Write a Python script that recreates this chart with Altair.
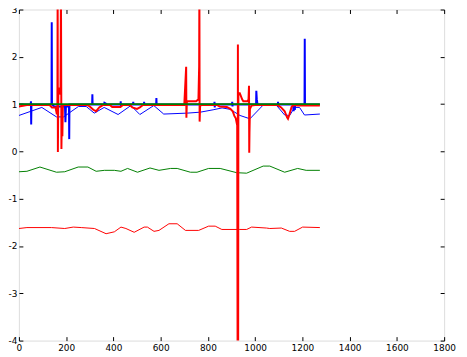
import altair as alt
import pandas as pd

# ---- data ----
BT_X = [0, 50, 51, 52, 53, 138, 139, 140, 150, 195, 197, 199, 212, 213, 214, 310, 311, 312,
        360, 362, 375, 430, 431, 432, 433, 483, 484, 485, 529, 530, 531, 581, 582, 583,
        827, 828, 829, 830, 902, 903, 904, 905, 1004, 1005, 1007, 1010, 1012, 1096, 1097,
        1098, 1099, 1160, 1163, 1165, 1168, 1170, 1209, 1210, 1211, 1274]
BT_Y = [0.99, 0.99, 1.06, 0.57, 0.99, 0.99, 2.73, 0.99, 0.95, 0.95, 0.62, 0.95, 0.95, 0.26, 0.99, 0.99, 1.21, 0.99,
        0.99, 1.03, 0.99, 0.99, 1.06, 0.95, 0.99, 0.99, 1.05, 0.99, 0.99, 1.05, 0.99, 0.99, 1.13, 0.99,
        0.99, 1.05, 0.93, 0.99, 0.99, 1.05, 0.95, 0.99, 0.99, 1.28, 1.10, 1.00, 0.99, 0.99, 1.05,
        0.95, 0.99, 0.99, 0.85, 0.95, 0.88, 0.99, 0.99, 2.38, 0.99, 0.99]

RT_X = [0, 34, 130, 140, 155, 160, 163, 164, 165, 167, 172, 176, 178, 180, 182, 184, 186,
        290, 300, 315, 327, 340, 355, 385, 395, 430, 440, 470, 480, 500, 512, 525,
        700, 708, 709, 711, 750, 760, 763, 764, 765, 767, 770, 840, 850, 880, 895, 905,
        912, 918, 924, 926, 927, 928, 929, 935, 945, 950, 968, 972, 974, 975, 976, 978,
        985, 1000, 1095, 1110, 1125, 1135, 1139, 1145, 1155, 1167, 1180, 1274]
RT_Y = [0.95, 0.98, 0.98, 0.93, 0.93, 0.80, 0.80, 3.5, -0.01, 1.25, 1.35, 1.20, 3.5, 0.05, 0.90, 0.32, 0.98,
        0.98, 0.95, 0.88, 0.85, 0.93, 0.98, 0.98, 0.94, 0.94, 0.98, 0.98, 0.93, 0.90, 0.93, 0.98,
        0.98, 1.79, 0.71, 1.06, 1.06, 1.10, 1.80, 3.5, 0.63, 0.95, 0.98, 0.98, 0.95, 0.94, 0.90, 0.85,
        0.75, 0.70, 0.55, -5.0, 2.26, -5.0, 1.23, 1.23, 1.10, 1.06, 1.06, 1.10, 1.39, -0.03, 0.38, 0.90,
        0.97, 0.98, 0.98, 0.93, 0.85, 0.72, 0.69, 0.78, 0.95, 0.98, 0.97, 0.97]

GF_X = [0, 1274]
GF_Y = [1.0, 1.0]

BW_X = [0, 97, 159, 189, 252, 285, 319, 361, 420, 474, 512, 571, 613, 713, 768, 822, 860,
        894, 936, 978, 1032, 1062, 1091, 1125, 1146, 1167, 1188, 1209, 1274]
BW_Y = [0.76, 0.93, 0.73, 0.73, 0.95, 0.95, 0.81, 0.93, 0.78, 0.97, 0.78, 0.97, 0.79, 0.81, 0.83, 0.88, 0.92,
        0.89, 0.76, 0.69, 0.97, 0.99, 0.97, 0.77, 0.76, 0.93, 0.93, 0.77, 0.79]

GW_X = [0, 34, 89, 159, 194, 251, 292, 327, 362, 404, 432, 460, 502, 555, 593, 642, 670,
        726, 754, 803, 852, 922, 964, 1034, 1062, 1125, 1180, 1216, 1274]
GW_Y = [-0.43, -0.42, -0.33, -0.44, -0.43, -0.33, -0.33, -0.42, -0.40, -0.40, -0.42, -0.36, -0.44, -0.35,
        -0.40, -0.36, -0.36, -0.44, -0.44, -0.36, -0.36, -0.45, -0.46, -0.31, -0.31, -0.44, -0.36, -0.40, -0.40]

RW_X = [0, 34, 138, 194, 230, 264, 320, 369, 404, 432, 453, 488, 530, 544, 572, 593, 635, 670,
        705, 761, 803, 831, 859, 933, 964, 985, 1048, 1062, 1111, 1146, 1167, 1201, 1274]
RW_Y = [-1.63, -1.61, -1.61, -1.63, -1.60, -1.61, -1.63, -1.74, -1.70, -1.60, -1.63, -1.71, -1.60, -1.60,
        -1.69, -1.67, -1.53, -1.53, -1.67, -1.67, -1.58, -1.58, -1.65, -1.65, -1.65, -1.60, -1.62, -1.63,
        -1.62, -1.69, -1.69, -1.60, -1.61]

X_TICKS = [0, 200, 400, 600, 800, 1000, 1200, 1400, 1600, 1800]
Y_TICKS = [-4, -3, -2, -1, 0, 1, 2, 3]


def frame(xs, ys):
    return pd.DataFrame({"x": xs, "y": ys, "i": list(range(len(xs)))})


xscale = alt.Scale(domain=[0, 1800], nice=False, zero=False)
yscale = alt.Scale(domain=[-4, 3], nice=False, zero=False)

ax_common = dict(grid=False, domain=False, tickSize=4, offset=-4, tickColor="black",
                 labelColor="black", labelFont="DejaVu Sans", labelFontSize=9,
                 labelOverlap=False, labelFlush=False, labelExpr="'' + datum.value")

x_bottom = alt.Axis(orient="bottom", values=X_TICKS, title=None, labelPadding=3, **ax_common)
y_left = alt.Axis(orient="left", values=Y_TICKS, title=None, labelPadding=2, **ax_common)
x_top = alt.Axis(orient="top", values=X_TICKS, title=None, labels=False, **ax_common)
y_right = alt.Axis(orient="right", values=Y_TICKS, title=None, labels=False, **ax_common)


def line(xs, ys, color, width, xaxis=None, yaxis=None):
    return alt.Chart(frame(xs, ys)).mark_line(color=color, strokeWidth=width, clip=True,
                                              interpolate="linear").encode(
        x=alt.X("x:Q", scale=xscale, axis=xaxis),
        y=alt.Y("y:Q", scale=yscale, axis=yaxis),
        order=alt.Order("i:Q"),
    )


BLUE = "#0000ff"
GREEN = "#008000"
RED = "#ff0000"

layers = [
    line(BW_X, BW_Y, BLUE, 1, x_bottom, y_left),
    line(GW_X, GW_Y, GREEN, 1, x_top, y_right),
    line(RW_X, RW_Y, RED, 1),
    line(BT_X, BT_Y, BLUE, 2),
    line(RT_X, RT_Y, RED, 2),
    line(GF_X, GF_Y, GREEN, 2),
]

chart = alt.layer(*layers).resolve_axis(x="independent", y="independent").properties(
    width=429, height=334,
    autosize=alt.AutoSizeParams(type="none"),
    padding={"left": 11, "top": 0, "right": 15, "bottom": 15},
).configure_view(stroke="black", strokeWidth=1).configure(background="white")

chart.save("out.html", embed_options={"renderer": "svg", "actions": False})
